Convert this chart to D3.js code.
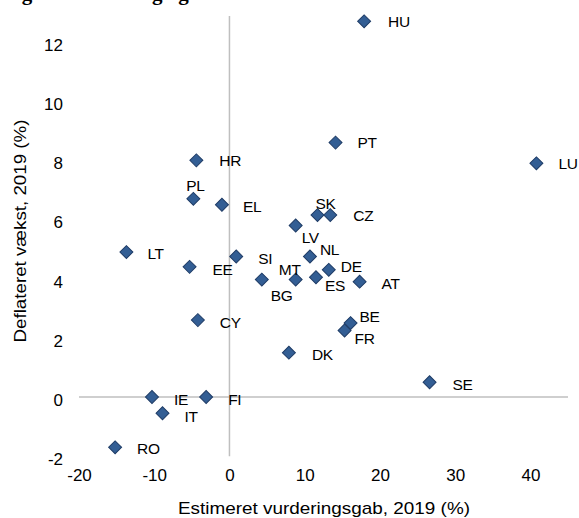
<!DOCTYPE html>
<html>
<head>
<meta charset="utf-8">
<script src="https://cdn.jsdelivr.net/npm/d3@7"></script>
<style>
  html, body { margin: 0; padding: 0; background: #fff; }
  svg { display: block; }
  text { font-family: "Liberation Sans", Arial, sans-serif; fill: #000; }
</style>
</head>
<body>
<svg id="chart" width="579" height="518"></svg>
<script>
// ---- data ----
const countries = ["HU","PT","LU","HR","PL","EL","SK","CZ","LV","NL","LT","SI","EE","DE","MT","ES","AT","BG","CY","BE","FR","DK","SE","IE","FI","IT","RO"];
const valuationGap = [17.9,14.1,40.8,-4.4,-4.8,-1.0,11.7,13.4,8.8,10.7,-13.7,0.9,-5.3,13.2,8.8,11.5,17.3,4.3,-4.2,16.1,15.3,7.9,26.6,-10.3,-3.1,-8.9,-15.2];
const deflatedGrowth = [12.7,8.6,7.9,8.0,6.7,6.5,6.15,6.15,5.8,4.75,4.9,4.75,4.4,4.3,3.97,4.05,3.9,3.97,2.6,2.5,2.25,1.5,0.5,0.0,0.0,-0.55,-1.7];
const xTicks = [-20,-10,0,10,20,30,40];
const yTicks = [-2,0,2,4,6,8,10,12];
const xTitle = "Estimeret vurderingsgab, 2019 (%)";
const yTitle = "Deflateret vækst, 2019 (%)";
const chartTitle = "Figur 2: Ændring og værdiansættelse";

// ---- layout ----
const xDomain = [-20, 45];
const yDomain = [-2, 12.88];
// label placement: [dx, dy, anchor]
const labelPos = {
  HU:[24,0,"start"], PT:[22,0,"start"], LU:[22,0,"start"], HR:[23,0,"start"],
  PL:[2,-13,"middle"], EL:[21,2,"start"], SK:[8,-12,"middle"], CZ:[23,0,"start"],
  LV:[6,12,"start"], NL:[10,-7,"start"], LT:[21,1,"start"], SI:[22,2,"start"],
  EE:[23,2.5,"start"], DE:[12,-3,"start"], MT:[-6,-10,"middle"], ES:[9,8,"start"],
  AT:[22,1.5,"start"], BG:[9,16,"start"], CY:[22,2,"start"], BE:[9,-7,"start"],
  FR:[10,8,"start"], DK:[23,2,"start"], SE:[23,2,"start"], IE:[22,2,"start"],
  FI:[22,2,"start"], IT:[22,3,"start"], RO:[22,1,"start"]
};

const svg = d3.select("#chart");
const x = d3.scaleLinear().domain(xDomain).range([79, 568]);
const y = d3.scaleLinear().domain(yDomain).range([456.2, 16]);

// partial title at top (cut off by the frame, as in the reference)
svg.append("text")
  .attr("x", 3).attr("y", -0.5)
  .style("font-family", "'Liberation Serif', 'Times New Roman', serif")
  .style("font-weight", "bold").style("font-size", "21px")
  .text(chartTitle);

// zero lines
svg.append("line")
  .attr("x1", x(xDomain[0])).attr("x2", x(xDomain[1]))
  .attr("y1", y(0)).attr("y2", y(0))
  .attr("stroke", "#bfbfbf").attr("stroke-width", 1.5);
svg.append("line")
  .attr("x1", x(0)).attr("x2", x(0))
  .attr("y1", y(yDomain[0])).attr("y2", y(yDomain[1]))
  .attr("stroke", "#bfbfbf").attr("stroke-width", 1.5);

// axes (labels only)
const fmt = d => String(d);
const yAxis = svg.append("g")
  .attr("transform", "translate(63,3)")
  .call(d3.axisLeft(y).tickValues(yTicks).tickSize(0).tickPadding(0).tickFormat(fmt));
yAxis.select(".domain").remove();
yAxis.selectAll("text").style("font-size", "17px").style("font-family", "'Liberation Sans', Arial, sans-serif");

const xAxis = svg.append("g")
  .attr("transform", "translate(0,469)")
  .call(d3.axisBottom(x).tickValues(xTicks).tickSize(0).tickPadding(0).tickFormat(fmt));
xAxis.select(".domain").remove();
xAxis.selectAll("text").style("font-size", "17px").style("font-family", "'Liberation Sans', Arial, sans-serif");

// axis titles
svg.append("text")
  .attr("x", 324).attr("y", 514)
  .attr("text-anchor", "middle")
  .attr("textLength", 292).attr("lengthAdjust", "spacingAndGlyphs")
  .style("font-size", "17px")
  .text(xTitle);
svg.append("text")
  .attr("transform", "translate(26,231) rotate(-90)")
  .attr("text-anchor", "middle")
  .attr("textLength", 223).attr("lengthAdjust", "spacingAndGlyphs")
  .style("font-size", "17px")
  .text(yTitle);

// points
const pts = countries.map((c, i) => ({c, gx: valuationGap[i], gy: deflatedGrowth[i]}));
const diamond = d3.symbol().type(d3.symbolSquare).size(84);
svg.append("g").selectAll("path").data(pts).join("path")
  .attr("d", diamond)
  .attr("transform", d => `translate(${x(d.gx)},${y(d.gy)}) rotate(45)`)
  .attr("fill", "#335e94")
  .attr("stroke", "#1f3c66")
  .attr("stroke-width", 1);

svg.append("g").selectAll("text").data(pts).join("text")
  .attr("x", d => x(d.gx) + labelPos[d.c][0])
  .attr("y", d => y(d.gy) + labelPos[d.c][1])
  .attr("dy", "0.36em")
  .attr("text-anchor", d => labelPos[d.c][2])
  .style("font-size", "15.5px")
  .style("letter-spacing", "-0.3px")
  .text(d => d.c);
</script>
</body>
</html>
